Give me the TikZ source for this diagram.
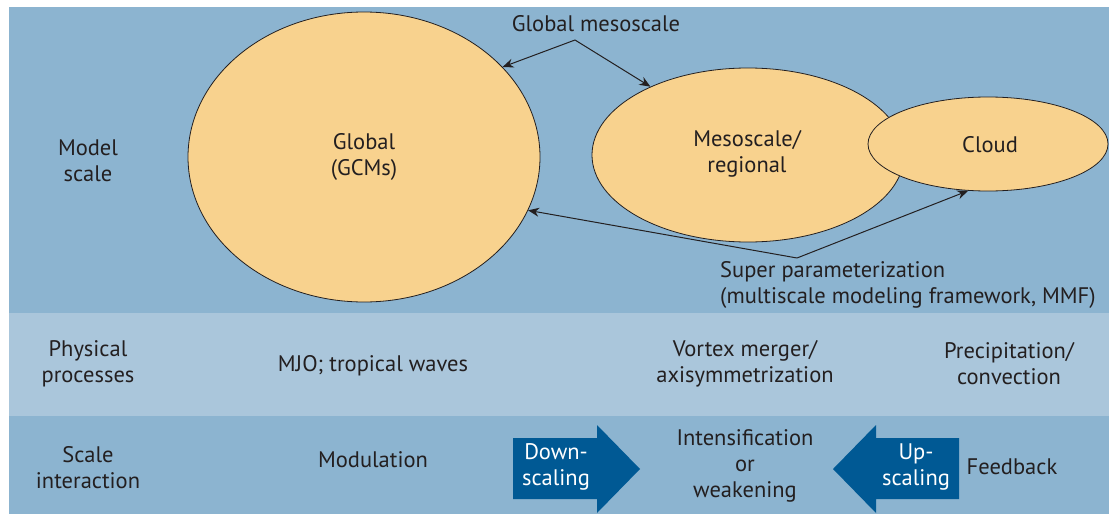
\documentclass[tikz,border=0pt]{standalone}
\usepackage{fontspec}
\setmainfont{PT Sans}
\usetikzlibrary{shapes.geometric,arrows.meta}

\definecolor{bandblue}{RGB}{140,180,208}
\definecolor{bandlight}{RGB}{170,198,219}
\definecolor{scalefill}{RGB}{248,210,142}
\definecolor{inkdark}{RGB}{35,31,32}
\definecolor{arrowblue}{RGB}{0,89,148}

\tikzset{
  lbl/.style={font=\fontsize{22.5}{26}\selectfont, text=inkdark, align=center, inner sep=0pt},
  wlbl/.style={font=\fontsize{22.5}{26}\selectfont, text=white, align=center, inner sep=0pt},
  scalebubble/.style={ellipse, draw=inkdark, line width=0.8pt, fill=scalefill, inner sep=0pt},
  pointer/.style={draw=inkdark, line width=1pt, -{Stealth[length=11pt,width=9pt]}},
}

\begin{document}
\begin{tikzpicture}[x=1pt,y=-1pt]
  \useasboundingbox (0,0) rectangle (1109,514);

  % three horizontal bands
  \fill[bandblue]  (9,7)   rectangle (1109,313);
  \fill[bandlight] (9,313) rectangle (1109,416);
  \fill[bandblue]  (9,416) rectangle (1109,514);

  % model scales
  \node[scalebubble, minimum width=352pt, minimum height=290pt] (global) at (364,157) {};
  \node[scalebubble, minimum width=312pt, minimum height=174pt] (meso) at (748,155) {};
  \node[scalebubble, minimum width=240pt, minimum height=94pt] (cloud) at (988,144) {};

  \node[lbl] (globaltxt) at (364,157) {Global\\(GCMs)};
  \node[lbl] (mesotxt) at (747,154) {Mesoscale/\\regional};
  \node[lbl] (cloudtxt) at (990,145) {Cloud};

  % global mesoscale pointers
  \node[lbl] (gm) at (596,24) {Global mesoscale};
  \coordinate (gmv) at (575,40);
  \draw[pointer] (gmv) -- (global.33.4);
  \draw[pointer] (gmv) -- (meso.145.3);

  % super parameterization pointers
  \node[lbl, align=left, anchor=north west] (sp) at (720,261)
    {Super parameterization\\(multiscale modeling framework, MMF)};
  \coordinate (spv) at (797,258);
  \draw[pointer] (spv) -- (global.-18.7);
  \draw[pointer] (spv) -- (cloud.247.4);

  % row headings
  \node[lbl] (rowmodel) at (88,161) {Model\\scale};
  \node[lbl] (rowphys) at (88,364) {Physical\\processes};
  \node[lbl] (rowint) at (88,468) {Scale\\interaction};

  % physical processes
  \node[lbl] (mjo) at (373,366) {MJO; tropical waves};
  \node[lbl] (vortex) at (745,364) {Vortex merger/\\axisymmetrization};
  \node[lbl] (precip) at (1009,364) {Precipitation/\\convection};

  % scale interaction
  \node[lbl] (modul) at (373,460) {Modulation};
  \node[lbl] (intens) at (745,466) {Intensification\\or\\weakening};
  \node[lbl] (feedback) at (1012,467) {Feedback};

  \fill[arrowblue] (513,438) -- (597,438) -- (597,425) -- (640,469)
    -- (597,513) -- (597,499) -- (513,499) -- cycle;
  \node[wlbl] (down) at (556,467) {Down-\\scaling};

  \fill[arrowblue] (959,438) -- (876,438) -- (876,425) -- (833,469)
    -- (876,513) -- (876,499) -- (959,499) -- cycle;
  \node[wlbl] (up) at (916,467) {Up-\\scaling};
\end{tikzpicture}
\end{document}
